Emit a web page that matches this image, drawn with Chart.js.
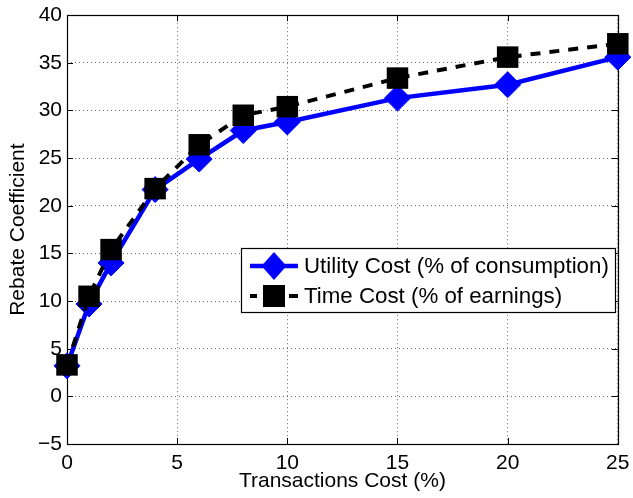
<!DOCTYPE html>
<html>
<head>
<meta charset="utf-8">
<script src="https://cdn.jsdelivr.net/npm/chart.js@4/dist/chart.umd.min.js"></script>
<style>
  html, body { margin: 0; padding: 0; background: #fff; }
  #wrap { width: 633px; height: 498px; }
</style>
</head>
<body>
<div id="wrap"><canvas id="c" width="633" height="498"></canvas></div>
<script>
const transactionsCost = [0, 1, 2, 4, 6, 8, 10, 15, 20, 25];
const utilityCost = [3.2, 9.7, 14.0, 21.7, 24.9, 27.9, 28.8, 31.3, 32.7, 35.6];
const timeCost = [3.3, 10.5, 15.4, 21.8, 26.4, 29.5, 30.4, 33.4, 35.6, 37.0];
const xTicks = [0, 5, 10, 15, 20, 25];
const yTicks = [-5, 0, 5, 10, 15, 20, 25, 30, 35, 40];
const seriesNames = ['Utility Cost (% of consumption)', 'Time Cost (% of earnings)'];
const axisTitles = { x: 'Transactions Cost (%)', y: 'Rebate Coefficient' };

const FONT = 'Liberation Sans, Arial, Helvetica, sans-serif';

function toPoints(xs, ys) { return xs.map((x, i) => ({ x: x, y: ys[i] })); }

const bgPlugin = {
  id: 'bg',
  beforeDraw(chart) {
    const ctx = chart.ctx;
    ctx.save();
    ctx.fillStyle = '#fff';
    ctx.fillRect(0, 0, chart.width, chart.height);
    ctx.restore();
  }
};

const framePlugin = {
  id: 'frame',
  beforeDatasetsDraw(chart) {
    const { ctx, chartArea: a, scales } = chart;
    ctx.save();
    ctx.strokeStyle = '#000';
    ctx.lineWidth = 1;
    ctx.beginPath();
    const tl = 6;
    xTicks.forEach(v => {
      const px = Math.round(scales.x.getPixelForValue(v)) + 0.5;
      ctx.moveTo(px, a.bottom); ctx.lineTo(px, a.bottom - tl);
      ctx.moveTo(px, a.top); ctx.lineTo(px, a.top + tl);
    });
    yTicks.forEach(v => {
      const py = Math.round(scales.y.getPixelForValue(v)) + 0.5;
      ctx.moveTo(a.left, py); ctx.lineTo(a.left + tl, py);
      ctx.moveTo(a.right, py); ctx.lineTo(a.right - tl, py);
    });
    ctx.stroke();
    ctx.lineWidth = 1.2;
    ctx.strokeRect(Math.round(a.left) + 0.5, Math.round(a.top) + 0.5,
                   Math.round(a.right - a.left), Math.round(a.bottom - a.top));
    ctx.restore();
  }
};

function drawDiamond(ctx, x, y, rx, ry, color) {
  ctx.beginPath();
  ctx.moveTo(x, y - ry); ctx.lineTo(x + rx, y); ctx.lineTo(x, y + ry); ctx.lineTo(x - rx, y);
  ctx.closePath();
  ctx.fillStyle = color; ctx.fill();
}

const legendPlugin = {
  id: 'boxLegend',
  afterDraw(chart) {
    const ctx = chart.ctx;
    const ds = chart.data.datasets;
    const bx = 241, by = 248, bw = 374, bh = 64;
    ctx.save();
    ctx.fillStyle = '#fff';
    ctx.fillRect(bx, by, bw, bh);
    ctx.strokeStyle = '#000';
    ctx.lineWidth = 1.2;
    ctx.strokeRect(bx + 0.5, by + 0.5, bw, bh);
    const r1 = 266, r2 = 296, sx0 = 250, sx1 = 298, cx = 274;
    const u = ds.find(d => d.label === seriesNames[0]);
    const t = ds.find(d => d.label === seriesNames[1]);
    ctx.strokeStyle = u.borderColor; ctx.lineWidth = u.borderWidth;
    ctx.beginPath(); ctx.moveTo(sx0, r1); ctx.lineTo(sx1, r1); ctx.stroke();
    drawDiamond(ctx, cx, r1, 12.5, 14, u.pointBackgroundColor);
    ctx.strokeStyle = t.borderColor; ctx.lineWidth = t.borderWidth;
    ctx.beginPath();
    ctx.moveTo(sx0, r2); ctx.lineTo(sx0 + 7, r2);
    ctx.moveTo(sx1 - 9, r2); ctx.lineTo(sx1, r2);
    ctx.stroke();
    ctx.fillStyle = t.pointBackgroundColor;
    ctx.fillRect(cx - 11, r2 - 11, 22, 22);
    ctx.fillStyle = '#000';
    ctx.font = '22.3px ' + FONT;
    ctx.textBaseline = 'middle';
    ctx.textAlign = 'left';
    ctx.fillText(seriesNames[0], 304, r1 + 1);
    ctx.fillText(seriesNames[1], 304, r2 + 1);
    ctx.restore();
  }
};

const gridColor = 'rgba(70,70,70,0.8)';

new Chart(document.getElementById('c'), {
  type: 'line',
  data: {
    datasets: [
      {
        label: seriesNames[0],
        data: toPoints(transactionsCost, utilityCost),
        borderColor: '#0000ff',
        backgroundColor: '#0000ff',
        pointBackgroundColor: '#0000ff',
        pointBorderColor: '#0000ff',
        borderWidth: 4.5,
        pointStyle: 'rectRot',
        pointRadius: 13,
        pointBorderWidth: 1,
        pointHoverRadius: 13,
        tension: 0,
        clip: false,
        order: 1
      },
      {
        label: seriesNames[1],
        data: toPoints(transactionsCost, timeCost),
        borderColor: '#000000',
        backgroundColor: '#000000',
        pointBackgroundColor: '#000000',
        pointBorderColor: '#000000',
        borderWidth: 4,
        borderDash: [10, 9],
        pointStyle: 'rect',
        pointRadius: 15.2,
        pointBorderWidth: 0,
        pointHoverRadius: 15.2,
        tension: 0,
        clip: false,
        order: 0
      }
    ]
  },
  options: {
    responsive: false,
    animation: false,
    events: [],
    layout: { padding: { left: 0, right: 14, top: 13, bottom: 0 } },
    plugins: {
      legend: { display: false },
      tooltip: { enabled: false },
      title: { display: false }
    },
    scales: {
      x: {
        type: 'linear',
        min: 0, max: 25,
        afterBuildTicks: (s) => { s.ticks = xTicks.map(v => ({ value: v })); },
        afterFit: (s) => { s.height = 54; s.paddingLeft = 0; s.paddingRight = 0; },
        ticks: {
          color: '#000',
          font: { family: FONT, size: 21 },
          padding: 7,
          maxRotation: 0,
          callback: (v) => String(v)
        },
        grid: { color: gridColor, lineWidth: 1, drawTicks: false },
        border: { display: false, dash: [1, 3] },
        title: {
          display: true, text: axisTitles.x, color: '#000',
          font: { family: FONT, size: 21 },
          padding: { top: 0, bottom: 4 }
        }
      },
      y: {
        type: 'linear',
        min: -5, max: 40,
        afterBuildTicks: (s) => { s.ticks = yTicks.map(v => ({ value: v })); },
        afterFit: (s) => { s.width = 67; s.paddingTop = 0; s.paddingBottom = 0; },
        ticks: {
          color: '#000',
          font: { family: FONT, size: 21 },
          padding: 5,
          callback: (v) => (v < 0 ? '\u2212' + Math.abs(v) : String(v))
        },
        grid: { color: gridColor, lineWidth: 1, drawTicks: false },
        border: { display: false, dash: [1, 3] },
        title: {
          display: true, text: axisTitles.y, color: '#000',
          font: { family: FONT, size: 21 },
          padding: { top: 6, bottom: 0 }
        }
      }
    }
  },
  plugins: [bgPlugin, framePlugin, legendPlugin]
});
</script>
</body>
</html>
